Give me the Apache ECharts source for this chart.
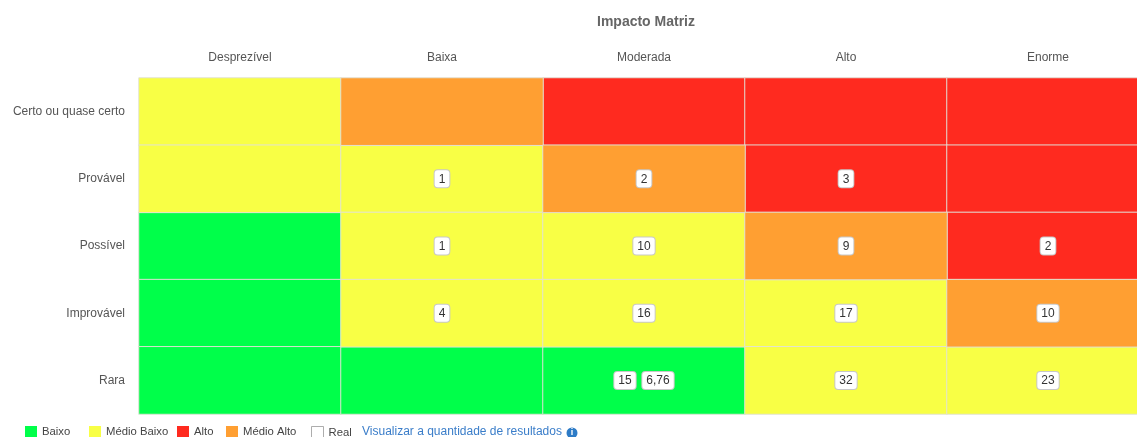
<!DOCTYPE html>
<html>
<head>
<meta charset="utf-8">
<script src="https://cdn.jsdelivr.net/npm/echarts@6/dist/echarts.min.js"></script>
<style>html,body{margin:0;padding:0;background:#fff;overflow:hidden}#c{width:1137px;height:437px}</style>
</head>
<body>
<div id="c"></div>
<script>
// Impact (columns) and probability (rows, top to bottom)
const impactCats = ['Desprezível', 'Baixa', 'Moderada', 'Alto', 'Enorme'];
const probCats = ['Certo ou quase certo', 'Provável', 'Possível', 'Improvável', 'Rara'];

// Risk level names (legend)
const levelNames = ['Baixo', 'Médio Baixo', 'Alto', 'Médio Alto'];
const levelColors = ['#00ff4a', '#f8ff45', '#ff2a1f', '#ff9f32'];

// Risk level per cell, row by row (index into levelNames)
const levelCerto      = [1, 3, 2, 2, 2];
const levelProvavel   = [1, 1, 3, 2, 2];
const levelPossivel   = [0, 1, 1, 3, 2];
const levelImprovavel = [0, 1, 1, 1, 3];
const levelRara       = [0, 0, 0, 1, 1];

// Counts per cell (null = empty)
const countCerto      = [null, null, null, null, null];
const countProvavel   = [null, 1, 2, 3, null];
const countPossivel   = [null, 1, 10, 9, 2];
const countImprovavel = [null, 4, 16, 17, 10];
const countRara       = [null, null, 15, 32, 23];

// "Real" values per cell
const realRara = [null, null, '6,76', null, null];

const levels = [levelCerto, levelProvavel, levelPossivel, levelImprovavel, levelRara];
const counts = [countCerto, countProvavel, countPossivel, countImprovavel, countRara];
const reals = [null, null, null, null, realRara];

const seriesData = levelNames.map(() => []);
levels.forEach((row, r) => {
  row.forEach((lv, c) => {
    const cnt = counts[r][c];
    const real = reals[r] ? reals[r][c] : null;
    seriesData[lv].push({ value: [c, r, cnt == null ? 0 : cnt], cnt: cnt, real: real });
  });
});

const FONT = 'Liberation Sans, Arial, sans-serif';
const series = levelNames.map((name, i) => ({
  name: name,
  type: 'heatmap',
  color: levelColors[i],
  data: seriesData[i],
  itemStyle: { color: levelColors[i], borderColor: 'rgba(225,225,215,0.95)', borderWidth: 1 },
  emphasis: { disabled: true },
  label: {
    show: true,
    formatter: p => {
      const d = p.data;
      let s = '';
      if (d.cnt != null) s += '{b|' + d.cnt + '}';
      if (d.real != null) s += '  {b|' + d.real + '}';
      return s;
    },
    rich: {
      b: {
        backgroundColor: '#fff', borderColor: '#c8c8c8', borderWidth: 1, borderRadius: 3,
        padding: [3, 4, 2, 4], fontSize: 12, color: '#333', fontFamily: FONT
      }
    }
  }
}));
series.push({
  name: 'Real', type: 'scatter', data: [],
  itemStyle: { color: '#fff', borderColor: '#999', borderWidth: 1 }
});

const legendNames = ['Baixo', 'Médio Baixo', 'Alto', 'Médio Alto', 'Real'];
const legendLefts = [25, 89, 177, 226, 311];
const legends = legendNames.map((n, i) => ({
  left: legendLefts[i], top: 426, padding: 0, itemWidth: 12, itemHeight: 12, icon: 'rect',
  data: [n === 'Real'
    ? { name: n, itemStyle: { color: '#fff', borderColor: '#999', borderWidth: 1 } }
    : { name: n, itemStyle: { borderWidth: 0 } }],
  textStyle: { color: '#444', fontSize: 11.3 },
  selectedMode: false
}));

const chart = echarts.init(document.getElementById('c'), null, { renderer: 'canvas' });
chart.setOption({
  animation: false,
  textStyle: { fontFamily: FONT },
  title: {
    text: 'Impacto Matriz', left: 641, top: 10, textAlign: 'center',
    textStyle: { fontSize: 14, fontWeight: 'bold', color: '#666' }
  },
  grid: { left: 139, width: 1010, top: 78, height: 336, containLabel: false, outerBoundsMode: 'none' },
  xAxis: {
    type: 'category', data: impactCats, position: 'top',
    axisLine: { show: false }, axisTick: { show: false }, splitLine: { show: false },
    axisLabel: { color: '#555', fontSize: 12, margin: 14 }
  },
  yAxis: {
    type: 'category', data: probCats, inverse: true,
    axisLine: { show: false }, axisTick: { show: false }, splitLine: { show: false },
    axisLabel: { color: '#555', fontSize: 12, margin: 14 }
  },
  legend: legends,
  graphic: [
    { type: 'text', left: 362, top: 426, style: { text: 'Visualizar a quantidade de resultados', fill: '#3a7dc9', font: '12px ' + FONT } },
    { type: 'circle', shape: { cx: 572, cy: 433, r: 5.5 }, style: { fill: '#2d7bc6' } },
    { type: 'text', x: 572, y: 433, style: { text: 'i', fill: '#fff', font: 'bold 9px ' + FONT, align: 'center', verticalAlign: 'middle' } }
  ],
  series: series
});
</script>
</body>
</html>
